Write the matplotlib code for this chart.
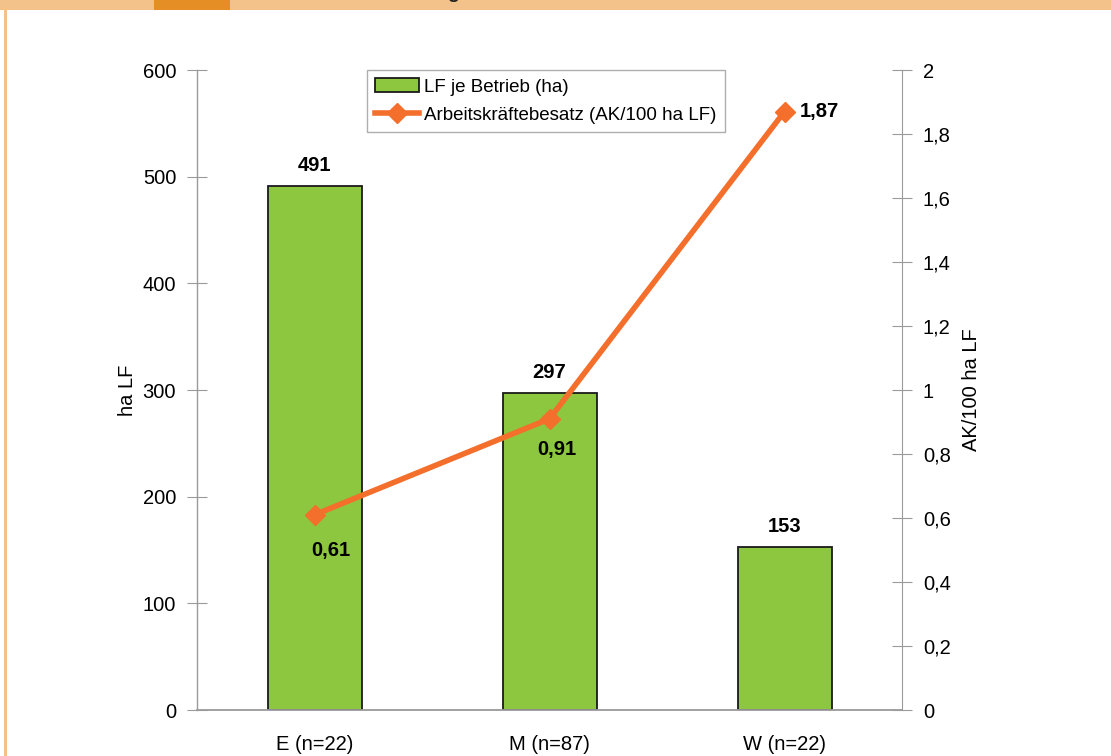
import matplotlib
matplotlib.use("Agg")
import matplotlib.pyplot as plt
from matplotlib import font_manager
from matplotlib.patches import Rectangle
from matplotlib.lines import Line2D

names = {f.name for f in font_manager.fontManager.ttflist}
if "Liberation Sans Narrow" in names:
    FONT = "Liberation Sans Narrow"
else:
    FONT = "Liberation Sans"
plt.rcParams["font.family"] = [FONT, "DejaVu Sans"]

categories = ["E (n=22)", "M (n=87)", "W (n=22)"]
lf_per_farm = [491, 297, 153]
ak_per_100ha = [0.61, 0.91, 1.87]
ak_labels = ["0,61", "0,91", "1,87"]
left_ticks = [0, 100, 200, 300, 400, 500, 600]
right_ticks = [0, 0.2, 0.4, 0.6, 0.8, 1.0, 1.2, 1.4, 1.6, 1.8, 2.0]
right_ticklabels = ["0", "0,2", "0,4", "0,6", "0,8", "1", "1,2", "1,4", "1,6", "1,8", "2"]

GREEN = "#8DC63F"
ORANGE = "#F36F2B"
GRAY = "#9A9A9A"
FS = 14.5

fig = plt.figure(figsize=(11.11, 7.56), dpi=100)

# decorative frame
fig.patches.append(Rectangle((0, 1 - 10 / 756), 1, 10 / 756, transform=fig.transFigure,
                             facecolor="#F2C28A", edgecolor="none", zorder=0))
fig.patches.append(Rectangle((154 / 1111, 1 - 10 / 756), 76 / 1111, 10 / 756, transform=fig.transFigure,
                             facecolor="#E58E25", edgecolor="none", zorder=1))
fig.patches.append(Rectangle((4 / 1111, 0), 2.5 / 1111, 1 - 10 / 756, transform=fig.transFigure,
                             facecolor="#F2C28A", edgecolor="none", zorder=0))
fig.text(453 / 1111, 1 + 2 / 756, "g", fontsize=14, fontweight="bold", color="#222222",
         ha="center", va="baseline")

ax = fig.add_axes([197 / 1111, 1 - 710 / 756, 705 / 1111, 640 / 756])
x = list(range(len(categories)))
ax.bar(x, lf_per_farm, width=0.4, color=GREEN, edgecolor="#1a1a1a", linewidth=1.3,
       zorder=2, label="LF je Betrieb (ha)")
ax.set_xlim(-0.5, 2.5)
ax.set_ylim(0, 600)
ax.set_yticks(left_ticks)
ax.set_yticklabels([str(t) for t in left_ticks])
ax.set_xticks(x)
ax.set_xticklabels(categories, fontsize=FS)
ax.tick_params(axis="x", length=0, pad=18)
ax.tick_params(axis="y", direction="inout", length=14, color=GRAY, labelsize=FS, pad=8)
for s in ["top", "right"]:
    ax.spines[s].set_visible(False)
ax.spines["left"].set_color(GRAY)
ax.spines["bottom"].set_color(GRAY)
ax.spines["left"].set_linewidth(1.0)
ax.spines["bottom"].set_linewidth(1.3)
ax.set_ylabel("ha LF", fontsize=FS, labelpad=4)

for xi, v in zip(x, lf_per_farm):
    ax.annotate(str(v), (xi, v), xytext=(0, 8), textcoords="offset points",
                ha="center", va="bottom", fontsize=FS, fontweight="bold")

ax2 = ax.twinx()
ax2.set_ylim(0, 2)
ax2.set_yticks(right_ticks)
ax2.set_yticklabels(right_ticklabels)
ax2.tick_params(axis="y", direction="inout", length=14, color=GRAY, labelsize=FS, pad=8)
for s in ["top", "left", "bottom"]:
    ax2.spines[s].set_visible(False)
ax2.spines["right"].set_color(GRAY)
ax2.set_ylabel("AK/100 ha LF", fontsize=FS, labelpad=8)
ax2.plot(x, ak_per_100ha, color=ORANGE, linewidth=4, marker="D", markersize=10,
         zorder=3, label="Arbeitskräftebesatz (AK/100 ha LF)")
offsets = [(12, -26), (5, -22), (11, 0)]
has = ["center", "center", "left"]
for xi, v, lab, off, ha in zip(x, ak_per_100ha, ak_labels, offsets, has):
    ax2.annotate(lab, (xi, v), xytext=off, textcoords="offset points",
                 ha=ha, va="center", fontsize=FS, fontweight="bold")

handles = [Rectangle((0, 0), 1, 1, facecolor=GREEN, edgecolor="#1a1a1a", linewidth=1.3),
           Line2D([], [], color=ORANGE, linewidth=4, marker="D", markersize=10)]
leg = ax2.legend(handles, ["LF je Betrieb (ha)", "Arbeitskräftebesatz (AK/100 ha LF)"],
                 loc="upper left", bbox_to_anchor=(170 / 705, 1.0), frameon=True,
                 fancybox=False, fontsize=13.5, handlelength=2.3, handletextpad=0.3,
                 borderpad=0.45, labelspacing=0.6, borderaxespad=0)
leg.get_frame().set_edgecolor(GRAY)
leg.get_frame().set_linewidth(1.0)

fig.savefig("out.png", dpi=100)
